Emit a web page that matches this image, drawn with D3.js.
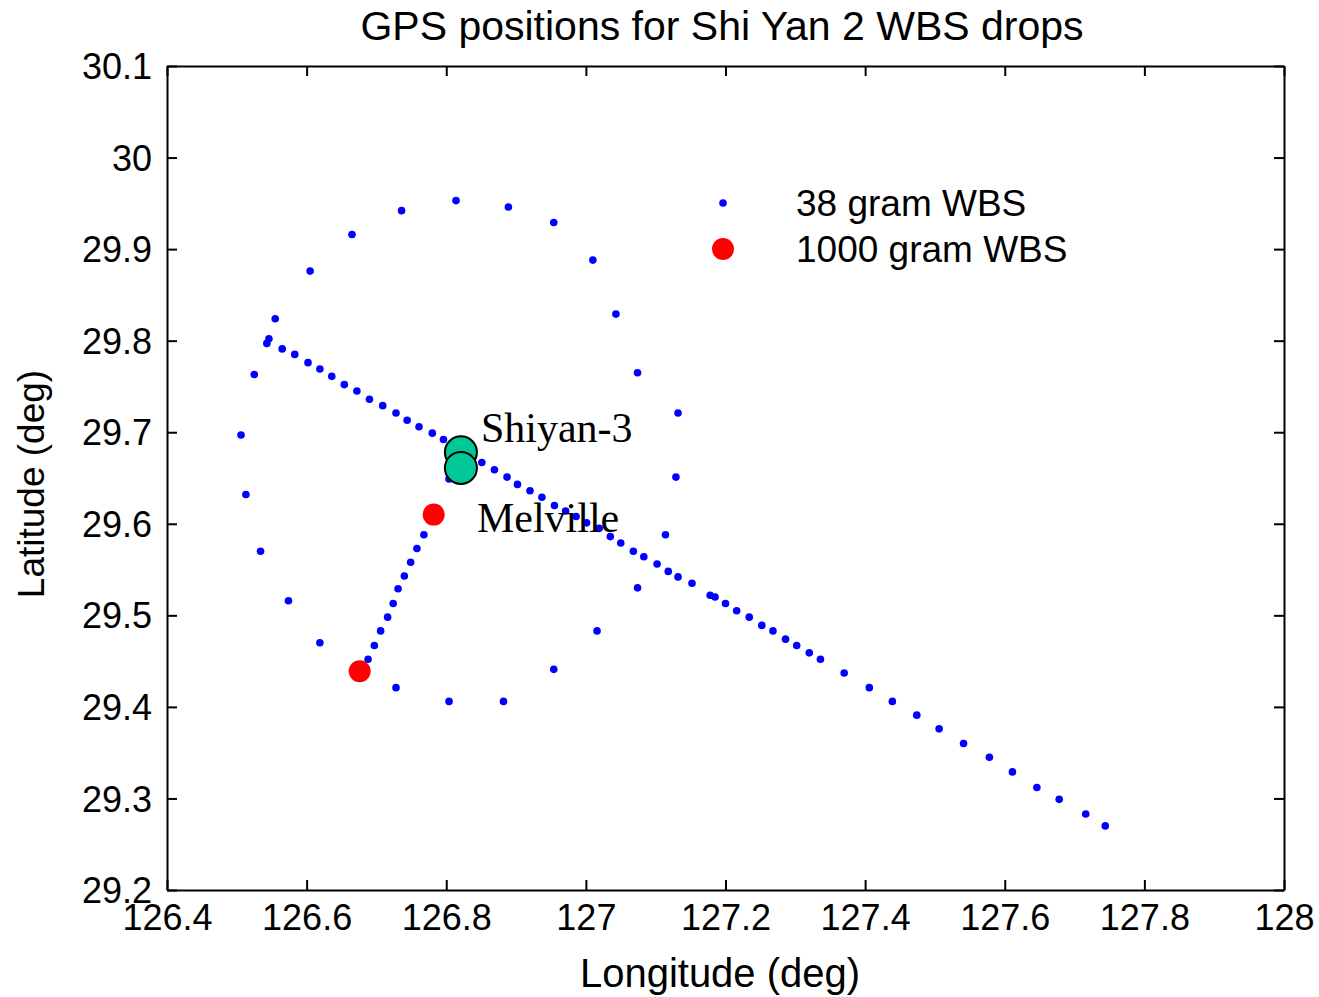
<!DOCTYPE html>
<html>
<head>
<meta charset="utf-8">
<script src="https://cdn.jsdelivr.net/npm/d3@7"></script>
<style>
  body { margin: 0; background: #fff; }
  svg { display: block; }
  .tick text { font-family: "Liberation Sans", Arial, sans-serif; }
</style>
</head>
<body>
<div id="chart"></div>
<script>
// 38 gram WBS, ring of drops around the ships
var ringLon = [126.814, 126.889, 126.954, 127.010, 127.043, 127.074, 127.132, 127.129, 127.114, 127.074, 127.016,
  126.954, 126.882, 126.804, 126.728, 126.619, 126.574, 126.534, 126.513, 126.506, 126.525, 126.546, 126.555,
  126.605, 126.665, 126.736];
var ringLat = [29.953, 29.946, 29.929, 29.888, 29.829, 29.765, 29.721, 29.651, 29.588, 29.530, 29.483,
  29.441, 29.406, 29.406, 29.421, 29.470, 29.516, 29.570, 29.632, 29.697, 29.763, 29.802, 29.824,
  29.876, 29.916, 29.942];

// 38 gram WBS, long north-west to south-east line
var lineLon = [126.543, 126.565, 126.583, 126.602, 126.619, 126.636, 126.654, 126.672, 126.690, 126.709, 126.728,
  126.744, 126.761, 126.780, 126.796, 126.814, 126.833, 126.851, 126.869, 126.887, 126.902, 126.920, 126.937,
  126.955, 126.971, 126.986, 127.001, 127.019, 127.035, 127.050, 127.068, 127.083, 127.102, 127.118, 127.132,
  127.152, 127.178, 127.185, 127.200, 127.216, 127.234, 127.252, 127.268, 127.286, 127.302, 127.320, 127.336,
  127.370, 127.406, 127.439, 127.474, 127.506, 127.541, 127.578, 127.611, 127.646, 127.678, 127.716, 127.744];
var lineLat = [29.797, 29.791, 29.785, 29.776, 29.769, 29.761, 29.752, 29.745, 29.736, 29.729, 29.721,
  29.713, 29.706, 29.699, 29.692, 29.683, 29.675, 29.667, 29.659, 29.651, 29.643, 29.636, 29.629,
  29.620, 29.614, 29.608, 29.601, 29.595, 29.586, 29.579, 29.570, 29.564, 29.556, 29.548, 29.542,
  29.535, 29.522, 29.520, 29.513, 29.505, 29.498, 29.489, 29.483, 29.474, 29.467, 29.459, 29.452,
  29.437, 29.421, 29.406, 29.391, 29.376, 29.360, 29.345, 29.329, 29.312, 29.299, 29.283, 29.270];

// 38 gram WBS, short track between the two big drops
var trackLon = [126.688, 126.697, 126.706, 126.716, 126.724, 126.731, 126.740, 126.749, 126.758, 126.768, 126.804];
var trackLat = [29.452, 29.467, 29.483, 29.498, 29.513, 29.529, 29.543, 29.558, 29.573, 29.588, 29.649];

// 1000 gram WBS
var bigLon = [126.782, 126.676];
var bigLat = [29.610, 29.439];

// ships
var shipNames = ["Shiyan-3", "Melville"];
var shipLon = [126.821, 126.821];
var shipLat = [29.678, 29.661];

var xTicks = [126.4, 126.6, 126.8, 127, 127.2, 127.4, 127.6, 127.8, 128];
var yTicks = [29.2, 29.3, 29.4, 29.5, 29.6, 29.7, 29.8, 29.9, 30, 30.1];
var legendLabels = ["38 gram WBS", "1000 gram WBS"];

var gpsChart = (function () {
  var svg;
  var width = 1319;
  var height = 997;
  var margin = { left: 167, right: 35, top: 66, bottom: 107 };
  var sans = "'Liberation Sans', Arial, sans-serif";

  var x = d3.scaleLinear().domain([126.4, 128]).range([margin.left, width - margin.right]);
  var y = d3.scaleLinear().domain([29.2, 30.1]).range([height - margin.bottom, margin.top]);

  var fmt = function (d) {
    return String(+d.toFixed(1));
  };

  var zip = function (lons, lats) {
    return lons.map(function (d, i) {
      return { lon: d, lat: lats[i] };
    });
  };

  var draw = function () {
    svg = d3.select("#chart").append("svg").attr("width", width).attr("height", height);

    var x0 = margin.left, x1 = width - margin.right;
    var y0 = margin.top, y1 = height - margin.bottom;

    // axes, ticks point inward like the original
    var bottom = svg.append("g").attr("transform", "translate(0," + y1 + ")")
      .call(d3.axisBottom(x).tickValues(xTicks).tickFormat(fmt).tickSizeInner(-10).tickSizeOuter(0).tickPadding(18));
    var left = svg.append("g").attr("transform", "translate(" + x0 + ",0)")
      .call(d3.axisLeft(y).tickValues(yTicks).tickFormat(fmt).tickSizeInner(-10).tickSizeOuter(0).tickPadding(15));
    var top = svg.append("g").attr("transform", "translate(0," + y0 + ")")
      .call(d3.axisTop(x).tickValues(xTicks).tickFormat("").tickSizeInner(-10).tickSizeOuter(0));
    var right = svg.append("g").attr("transform", "translate(" + x1 + ",0)")
      .call(d3.axisRight(y).tickValues(yTicks).tickFormat("").tickSizeInner(-10).tickSizeOuter(0));

    [bottom, left, top, right].forEach(function (g) {
      g.select(".domain").attr("stroke", "#000").attr("stroke-width", 2);
      g.selectAll(".tick line").attr("stroke", "#000").attr("stroke-width", 2);
      g.selectAll(".tick text").attr("fill", "#000").style("font-size", "36px");
    });
    bottom.selectAll(".tick text").attr("dy", "0.62em");
    left.selectAll(".tick text").attr("dy", "0.35em");

    // title and axis labels
    svg.append("text")
      .attr("x", 722).attr("y", 40)
      .attr("text-anchor", "middle")
      .style("font-family", sans).style("font-size", "41px")
      .text("GPS positions for Shi Yan 2 WBS drops");

    svg.append("text")
      .attr("x", 720).attr("y", 987)
      .attr("text-anchor", "middle")
      .style("font-family", sans).style("font-size", "40px")
      .text("Longitude (deg)");

    svg.append("text")
      .attr("transform", "translate(44,484) rotate(-90)")
      .attr("text-anchor", "middle")
      .style("font-family", sans).style("font-size", "37px")
      .text("Latitude (deg)");

    // 38 gram drops
    var small = zip(ringLon, ringLat).concat(zip(lineLon, lineLat), zip(trackLon, trackLat));
    svg.append("g").selectAll("circle")
      .data(small)
      .enter()
      .append("circle")
      .attr("cx", function (d) { return x(d.lon); })
      .attr("cy", function (d) { return y(d.lat); })
      .attr("r", 3.8)
      .attr("fill", "#0000ff");

    // 1000 gram drops
    svg.append("g").selectAll("circle")
      .data(zip(bigLon, bigLat))
      .enter()
      .append("circle")
      .attr("cx", function (d) { return x(d.lon); })
      .attr("cy", function (d) { return y(d.lat); })
      .attr("r", 11)
      .attr("fill", "#ff0000");

    // ships
    var ships = shipNames.map(function (n, i) {
      return { name: n, lon: shipLon[i], lat: shipLat[i] };
    });
    var labelShift = { "Shiyan-3": [20, -10], "Melville": [16, 64] };

    svg.append("g").selectAll("circle")
      .data(ships)
      .enter()
      .append("circle")
      .attr("cx", function (d) { return x(d.lon); })
      .attr("cy", function (d) { return y(d.lat); })
      .attr("r", 16)
      .attr("fill", "#00c896")
      .attr("stroke", "#000")
      .attr("stroke-width", 2);

    svg.append("g").selectAll("text")
      .data(ships)
      .enter()
      .append("text")
      .attr("x", function (d) { return x(d.lon) + labelShift[d.name][0]; })
      .attr("y", function (d) { return y(d.lat) + labelShift[d.name][1]; })
      .style("font-family", "'Liberation Serif', 'Times New Roman', serif")
      .style("font-size", "42px")
      .text(function (d) { return d.name; });

    // legend
    var legend = svg.append("g").attr("transform", "translate(723,203)");
    legend.append("circle").attr("cx", 0).attr("cy", 0).attr("r", 3.8).attr("fill", "#0000ff");
    legend.append("circle").attr("cx", 0).attr("cy", 46).attr("r", 11).attr("fill", "#ff0000");
    legend.selectAll("text")
      .data(legendLabels)
      .enter()
      .append("text")
      .attr("x", 73)
      .attr("y", function (d, i) { return 13 + i * 46; })
      .style("font-family", sans).style("font-size", "37px")
      .text(function (d) { return d; });
  };

  return { draw: draw };
})();

gpsChart.draw();
</script>
</body>
</html>
